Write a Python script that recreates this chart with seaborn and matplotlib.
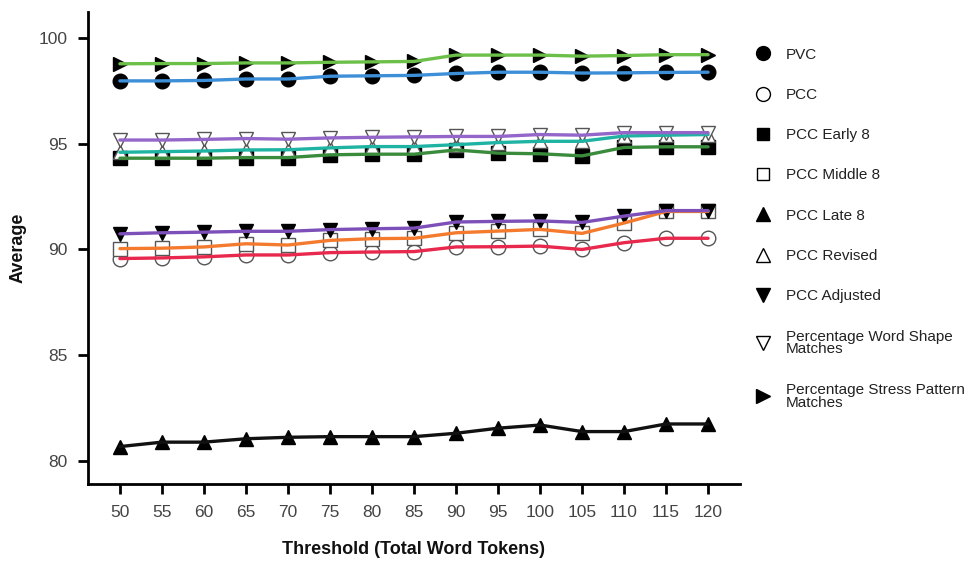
import matplotlib
matplotlib.use("Agg")
import matplotlib.pyplot as plt
from matplotlib.lines import Line2D
import seaborn as sns
import pandas as pd

sns.set_theme(style="white")
plt.rcParams['font.family'] = ['Liberation Sans', 'DejaVu Sans']

thresholds = [50, 55, 60, 65, 70, 75, 80, 85, 90, 95, 100, 105, 110, 115, 120]

pvc = [97.98, 97.98, 98.00, 98.07, 98.07, 98.20, 98.22, 98.24, 98.33, 98.39, 98.39, 98.35, 98.36, 98.38, 98.39]
pcc = [89.57, 89.60, 89.65, 89.74, 89.74, 89.85, 89.88, 89.90, 90.12, 90.13, 90.16, 90.00, 90.32, 90.53, 90.53]
pcc_early8 = [94.32, 94.32, 94.32, 94.35, 94.35, 94.48, 94.51, 94.51, 94.71, 94.56, 94.53, 94.43, 94.83, 94.86, 94.86]
pcc_middle8 = [90.04, 90.06, 90.12, 90.27, 90.21, 90.43, 90.51, 90.53, 90.79, 90.87, 90.95, 90.76, 91.25, 91.80, 91.80]
pcc_late8 = [80.67, 80.88, 80.88, 81.04, 81.11, 81.14, 81.14, 81.14, 81.30, 81.54, 81.69, 81.38, 81.38, 81.74, 81.74]
pcc_revised = [94.60, 94.63, 94.66, 94.71, 94.72, 94.81, 94.87, 94.87, 94.96, 95.06, 95.12, 95.12, 95.37, 95.41, 95.44]
pcc_adjusted = [90.74, 90.79, 90.82, 90.86, 90.86, 90.94, 90.98, 91.01, 91.30, 91.33, 91.35, 91.28, 91.58, 91.84, 91.84]
word_shape = [95.18, 95.18, 95.21, 95.25, 95.22, 95.28, 95.31, 95.33, 95.35, 95.35, 95.44, 95.41, 95.53, 95.53, 95.53]
stress = [98.79, 98.80, 98.80, 98.83, 98.83, 98.86, 98.88, 98.90, 99.20, 99.20, 99.20, 99.15, 99.18, 99.22, 99.22]

labels = ["PVC", "PCC", "PCC Early 8", "PCC Middle 8", "PCC Late 8", "PCC Revised",
          "PCC Adjusted", "Percentage Word Shape\nMatches", "Percentage Stress Pattern\nMatches"]
series = [pvc, pcc, pcc_early8, pcc_middle8, pcc_late8, pcc_revised, pcc_adjusted, word_shape, stress]
line_colors = ["#3d8fd8", "#e8284c", "#3a8b3c", "#f47a2e", "#111111", "#1fb3a3", "#7d4fb8", "#9466c9", "#6cc04a"]
markers = ["o", "o", "s", "s", "^", "^", "v", "v", ">"]
filled = [True, False, True, False, True, False, True, False, True]

rows = []
for lab, vals in zip(labels, series):
    for t, v in zip(thresholds, vals):
        rows.append({"Threshold": t, "Average": v, "Series": lab})
df = pd.DataFrame(rows)

fig = plt.figure(figsize=(9.70, 5.61), dpi=100)
ax = fig.add_axes([0.0907, 0.1373, 0.6722, 0.8413])

for lab, col, mk, fl in zip(labels, line_colors, markers, filled):
    d = df[df["Series"] == lab]
    sns.lineplot(data=d, x="Threshold", y="Average", ax=ax, color=col, lw=0,
                 marker=mk, markersize=10.5 if mk != "s" else 9.5,
                 markerfacecolor="black" if fl else "white",
                 markeredgecolor="black" if fl else "#555555",
                 markeredgewidth=1.0, zorder=2)
for lab, col in zip(labels, line_colors):
    d = df[df["Series"] == lab]
    sns.lineplot(data=d, x="Threshold", y="Average", ax=ax, color=col, lw=2.4, zorder=3)

ax.set_xlim(46.2, 123.8)
ax.set_ylim(78.9, 101.24)
ax.set_xticks(thresholds)
ax.set_yticks([80, 85, 90, 95, 100])
for s in ["top", "right"]:
    ax.spines[s].set_visible(False)
for s in ["left", "bottom"]:
    ax.spines[s].set_color("black")
    ax.spines[s].set_linewidth(2.0)
ax.tick_params(axis="both", which="major", direction="out", length=7, width=2,
               color="black", labelsize=12.5, labelcolor="#444444", pad=8, left=True, bottom=True)
ax.set_xlabel("Threshold (Total Word Tokens)", fontsize=13, fontweight="bold", labelpad=15, color="#111111")
ax.set_ylabel("Average", fontsize=13, fontweight="bold", labelpad=8, color="#111111")
ax.grid(False)

handles = []
for lab, mk, fl in zip(labels, markers, filled):
    handles.append(Line2D([], [], linestyle="none", marker=mk, markersize=10 if mk != "s" else 9,
                          markerfacecolor="black" if fl else "white",
                          markeredgecolor="black", markeredgewidth=1.0))
leg = fig.legend(handles, labels, loc="upper left", bbox_to_anchor=(0.772, 0.926),
                 frameon=False, fontsize=11, labelspacing=1.72, handlelength=1.0,
                 handletextpad=1.0, borderaxespad=0)
for t in leg.get_texts():
    t.set_color("#222222")
    t.set_linespacing(0.9)

fig.savefig("out.png", dpi=100)
